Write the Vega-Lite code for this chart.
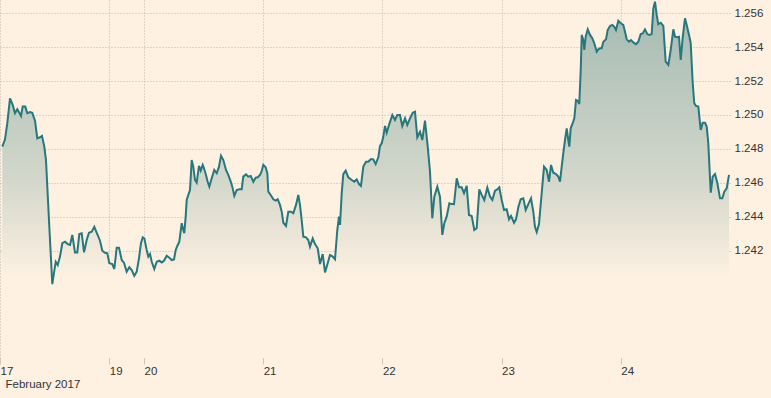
{
  "$schema": "https://vega.github.io/schema/vega-lite/v6.json",
  "autosize": "none",
  "width": 730,
  "height": 358,
  "padding": {"left": 0, "top": 0, "right": 41, "bottom": 40},
  "background": "#fef1e2",
  "config": {
    "view": {"stroke": null},
    "font": "Liberation Sans"
  },
  "data": {
    "values": [
      {"t":0.46,"v":1.24813},{"t":1.01,"v":1.24856},{"t":1.47,"v":1.24951},{"t":2.01,"v":1.25098},{"t":2.56,"v":1.25059},
      {"t":3.02,"v":1.25010},{"t":3.48,"v":1.25033},{"t":3.89,"v":1.25013},{"t":4.23,"v":1.24994},{"t":4.57,"v":1.25049},
      {"t":5.09,"v":1.25049},{"t":5.50,"v":1.25010},{"t":6.04,"v":1.25017},{"t":6.50,"v":1.25012},{"t":7.05,"v":1.24966},
      {"t":7.51,"v":1.24862},{"t":8.05,"v":1.24868},{"t":8.46,"v":1.24876},{"t":8.92,"v":1.24813},{"t":9.26,"v":1.24734},
      {"t":9.93,"v":1.24340},{"t":10.53,"v":1.24002},{"t":11.22,"v":1.24134},{"t":11.62,"v":1.24115},{"t":12.08,"v":1.24164},
      {"t":12.55,"v":1.24243},{"t":13.09,"v":1.24252},{"t":13.63,"v":1.24238},{"t":14.10,"v":1.24233},{"t":14.56,"v":1.24292},
      {"t":15.10,"v":1.24189},{"t":15.57,"v":1.24189},{"t":15.97,"v":1.24297},{"t":16.45,"v":1.24302},{"t":16.92,"v":1.24189},
      {"t":17.46,"v":1.24262},{"t":17.92,"v":1.24305},{"t":18.47,"v":1.24311},{"t":18.99,"v":1.24340},{"t":19.59,"v":1.24297},
      {"t":20.14,"v":1.24258},{"t":20.60,"v":1.24199},{"t":21.14,"v":1.24187},{"t":21.61,"v":1.24184},{"t":22.01,"v":1.24125},
      {"t":22.61,"v":1.24120},{"t":23.02,"v":1.24091},{"t":23.50,"v":1.24217},{"t":23.96,"v":1.24217},{"t":24.51,"v":1.24144},
      {"t":24.97,"v":1.24128},{"t":25.51,"v":1.24075},{"t":26.04,"v":1.24101},{"t":26.52,"v":1.24085},{"t":27.04,"v":1.24051},
      {"t":27.53,"v":1.24075},{"t":27.99,"v":1.24154},{"t":28.39,"v":1.24243},{"t":28.74,"v":1.24278},{"t":29.06,"v":1.24272},
      {"t":29.54,"v":1.24203},{"t":29.86,"v":1.24164},{"t":30.21,"v":1.24179},{"t":30.55,"v":1.24134},{"t":31.07,"v":1.24091},
      {"t":31.56,"v":1.24134},{"t":32.08,"v":1.24140},{"t":32.56,"v":1.24130},{"t":33.02,"v":1.24140},{"t":33.57,"v":1.24169},
      {"t":34.09,"v":1.24158},{"t":34.58,"v":1.24144},{"t":35.04,"v":1.24148},{"t":35.38,"v":1.24203},{"t":35.70,"v":1.24227},
      {"t":36.11,"v":1.24252},{"t":36.59,"v":1.24361},{"t":36.91,"v":1.24321},{"t":37.11,"v":1.24302},{"t":37.39,"v":1.24400},
      {"t":37.60,"v":1.24498},{"t":37.92,"v":1.24528},{"t":38.26,"v":1.24557},{"t":38.60,"v":1.24734},{"t":38.92,"v":1.24695},
      {"t":39.27,"v":1.24616},{"t":39.61,"v":1.24600},{"t":40.07,"v":1.24699},{"t":40.42,"v":1.24671},{"t":40.82,"v":1.24705},
      {"t":41.08,"v":1.24685},{"t":41.48,"v":1.24646},{"t":41.82,"v":1.24606},{"t":42.15,"v":1.24577},{"t":42.63,"v":1.24626},
      {"t":43.15,"v":1.24675},{"t":43.64,"v":1.24656},{"t":44.10,"v":1.24695},{"t":44.50,"v":1.24759},{"t":44.97,"v":1.24734},
      {"t":45.51,"v":1.24675},{"t":45.97,"v":1.24646},{"t":46.52,"v":1.24602},{"t":46.78,"v":1.24577},{"t":47.18,"v":1.24522},
      {"t":47.66,"v":1.24557},{"t":48.19,"v":1.24561},{"t":48.67,"v":1.24561},{"t":48.99,"v":1.24636},{"t":49.54,"v":1.24650},
      {"t":50.00,"v":1.24636},{"t":50.48,"v":1.24640},{"t":51.01,"v":1.24606},{"t":51.49,"v":1.24630},{"t":51.90,"v":1.24632},
      {"t":52.36,"v":1.24646},{"t":52.70,"v":1.24669},{"t":53.02,"v":1.24705},{"t":53.50,"v":1.24691},{"t":53.83,"v":1.24656},
      {"t":54.03,"v":1.24547},{"t":54.51,"v":1.24528},{"t":55.04,"v":1.24502},{"t":55.52,"v":1.24494},{"t":55.92,"v":1.24502},
      {"t":56.38,"v":1.24469},{"t":56.73,"v":1.24429},{"t":57.05,"v":1.24364},{"t":57.59,"v":1.24345},{"t":58.06,"v":1.24429},
      {"t":58.60,"v":1.24429},{"t":59.06,"v":1.24420},{"t":59.61,"v":1.24469},{"t":60.07,"v":1.24528},{"t":60.41,"v":1.24469},
      {"t":60.75,"v":1.24380},{"t":61.08,"v":1.24282},{"t":61.62,"v":1.24278},{"t":62.08,"v":1.24262},{"t":62.42,"v":1.24223},
      {"t":62.97,"v":1.24272},{"t":63.43,"v":1.24238},{"t":63.98,"v":1.24213},{"t":64.44,"v":1.24120},{"t":64.98,"v":1.24179},
      {"t":65.45,"v":1.24071},{"t":65.99,"v":1.24125},{"t":66.45,"v":1.24174},{"t":67.00,"v":1.24164},{"t":67.46,"v":1.24148},
      {"t":67.92,"v":1.24321},{"t":68.26,"v":1.24400},{"t":68.47,"v":1.24351},{"t":68.81,"v":1.24538},{"t":69.13,"v":1.24651},
      {"t":69.61,"v":1.24671},{"t":70.14,"v":1.24632},{"t":70.82,"v":1.24616},{"t":71.35,"v":1.24606},{"t":71.83,"v":1.24620},
      {"t":72.29,"v":1.24592},{"t":72.69,"v":1.24581},{"t":73.16,"v":1.24695},{"t":73.70,"v":1.24724},{"t":74.16,"v":1.24724},
      {"t":74.71,"v":1.24740},{"t":75.17,"v":1.24738},{"t":75.65,"v":1.24710},{"t":76.18,"v":1.24750},{"t":76.52,"v":1.24817},
      {"t":76.86,"v":1.24833},{"t":77.18,"v":1.24871},{"t":77.53,"v":1.24935},{"t":77.87,"v":1.24895},{"t":78.39,"v":1.24946},
      {"t":79.00,"v":1.25000},{"t":79.54,"v":1.24970},{"t":80.00,"v":1.25000},{"t":80.55,"v":1.25000},{"t":81.01,"v":1.24935},
      {"t":81.56,"v":1.24980},{"t":82.02,"v":1.24941},{"t":82.56,"v":1.24980},{"t":83.11,"v":1.25013},{"t":83.57,"v":1.25019},
      {"t":84.03,"v":1.24868},{"t":84.58,"v":1.24901},{"t":85.04,"v":1.24852},{"t":85.58,"v":1.24966},{"t":86.13,"v":1.24813},
      {"t":86.59,"v":1.24665},{"t":87.05,"v":1.24390},{"t":87.46,"v":1.24518},{"t":88.06,"v":1.24577},{"t":88.60,"v":1.24518},
      {"t":89.07,"v":1.24292},{"t":89.47,"v":1.24361},{"t":89.95,"v":1.24400},{"t":90.48,"v":1.24479},{"t":90.96,"v":1.24474},
      {"t":91.42,"v":1.24473},{"t":91.97,"v":1.24626},{"t":92.43,"v":1.24573},{"t":92.97,"v":1.24573},{"t":93.44,"v":1.24538},
      {"t":93.98,"v":1.24581},{"t":94.44,"v":1.24410},{"t":94.99,"v":1.24404},{"t":95.51,"v":1.24321},{"t":95.99,"v":1.24331},
      {"t":96.52,"v":1.24561},{"t":97.00,"v":1.24528},{"t":97.52,"v":1.24498},{"t":98.13,"v":1.24571},{"t":98.67,"v":1.24518},
      {"t":99.14,"v":1.24498},{"t":99.68,"v":1.24553},{"t":100.14,"v":1.24561},{"t":100.54,"v":1.24573},{"t":101.03,"v":1.24498},
      {"t":101.49,"v":1.24439},{"t":102.03,"v":1.24443},{"t":102.50,"v":1.24384},{"t":102.90,"v":1.24404},{"t":103.51,"v":1.24364},
      {"t":103.91,"v":1.24384},{"t":104.37,"v":1.24455},{"t":104.85,"v":1.24502},{"t":105.38,"v":1.24508},{"t":105.86,"v":1.24439},
      {"t":106.39,"v":1.24474},{"t":106.93,"v":1.24508},{"t":107.39,"v":1.24429},{"t":107.73,"v":1.24340},{"t":108.08,"v":1.24309},
      {"t":108.54,"v":1.24356},{"t":109.08,"v":1.24538},{"t":109.55,"v":1.24695},{"t":110.09,"v":1.24675},{"t":110.56,"v":1.24606},
      {"t":110.96,"v":1.24705},{"t":111.42,"v":1.24659},{"t":111.96,"v":1.24651},{"t":112.43,"v":1.24636},{"t":112.77,"v":1.24606},
      {"t":113.11,"v":1.24695},{"t":113.43,"v":1.24774},{"t":113.77,"v":1.24852},{"t":114.12,"v":1.24921},{"t":114.44,"v":1.24852},
      {"t":114.64,"v":1.24813},{"t":114.92,"v":1.24921},{"t":115.32,"v":1.24951},{"t":115.65,"v":1.24980},{"t":115.99,"v":1.25088},
      {"t":116.33,"v":1.25084},{"t":116.65,"v":1.25064},{"t":116.94,"v":1.25265},{"t":117.14,"v":1.25472},{"t":117.46,"v":1.25442},
      {"t":117.66,"v":1.25383},{"t":117.94,"v":1.25462},{"t":118.35,"v":1.25505},{"t":118.81,"v":1.25472},{"t":119.27,"v":1.25452},
      {"t":119.67,"v":1.25423},{"t":120.16,"v":1.25373},{"t":120.48,"v":1.25387},{"t":120.82,"v":1.25393},{"t":121.16,"v":1.25393},
      {"t":121.49,"v":1.25432},{"t":122.03,"v":1.25446},{"t":122.37,"v":1.25501},{"t":122.84,"v":1.25525},{"t":123.30,"v":1.25531},
      {"t":123.70,"v":1.25520},{"t":124.04,"v":1.25501},{"t":124.51,"v":1.25556},{"t":124.99,"v":1.25541},{"t":125.51,"v":1.25531},
      {"t":125.86,"v":1.25491},{"t":126.20,"v":1.25446},{"t":126.66,"v":1.25432},{"t":127.07,"v":1.25442},{"t":127.53,"v":1.25428},
      {"t":128.07,"v":1.25417},{"t":128.54,"v":1.25432},{"t":129.02,"v":1.25477},{"t":129.42,"v":1.25481},{"t":129.88,"v":1.25505},
      {"t":130.35,"v":1.25477},{"t":130.75,"v":1.25472},{"t":131.23,"v":1.25477},{"t":131.56,"v":1.25629},{"t":131.90,"v":1.25668},
      {"t":132.24,"v":1.25590},{"t":132.56,"v":1.25536},{"t":133.05,"v":1.25544},{"t":133.57,"v":1.25525},{"t":134.05,"v":1.25314},
      {"t":134.58,"v":1.25295},{"t":135.06,"v":1.25383},{"t":135.59,"v":1.25505},{"t":135.93,"v":1.25461},{"t":136.39,"v":1.25458},
      {"t":136.73,"v":1.25461},{"t":137.08,"v":1.25324},{"t":137.48,"v":1.25458},{"t":137.94,"v":1.25570},{"t":138.28,"v":1.25531},
      {"t":138.75,"v":1.25472},{"t":139.09,"v":1.25423},{"t":139.49,"v":1.25187},{"t":139.81,"v":1.25069},{"t":140.16,"v":1.25053},
      {"t":140.62,"v":1.25049},{"t":141.10,"v":1.24911},{"t":141.50,"v":1.24954},{"t":141.97,"v":1.24954},{"t":142.31,"v":1.24931},
      {"t":142.63,"v":1.24833},{"t":143.12,"v":1.24541},{"t":143.52,"v":1.24636},{"t":143.98,"v":1.24651},{"t":144.44,"v":1.24600},
      {"t":144.99,"v":1.24508},{"t":145.45,"v":1.24508},{"t":145.85,"v":1.24547},{"t":146.33,"v":1.24567},{"t":146.80,"v":1.24646}
    ]
  },
  "encoding": {
    "x": {
      "field": "t",
      "type": "quantitative",
      "scale": {"domain": [0, 147], "nice": false, "zero": false},
      "axis": {
        "orient": "bottom",
        "values": [0, 22, 29, 53, 77, 101, 125],
        "labelExpr": "datum.value == 0 ? '17' : datum.value == 22 ? '19' : datum.value == 29 ? '20' : datum.value == 53 ? '21' : datum.value == 77 ? '22' : datum.value == 101 ? '23' : '24'",
        "domain": false,
        "grid": true,
        "gridDash": [1, 2],
        "gridColor": "#bdb6ac",
        "gridWidth": 1,
        "ticks": true,
        "tickSize": 6,
        "tickColor": "#cdc6bb",
        "tickWidth": 1,
        "labelAlign": "left",
        "labelBaseline": "top",
        "labelDx": 4.5,
        "labelPadding": 1,
        "labelFontSize": 11.5,
        "labelColor": "#333333",
        "labelFont": "Liberation Sans",
        "labelOverlap": false,
        "labelBound": false,
        "labelFlush": false,
        "title": "February 2017",
        "titleFont": "Liberation Sans",
        "titleFontSize": 11.5,
        "titleFontWeight": "normal",
        "titleColor": "#333333",
        "titleAnchor": "start",
        "titleAlign": "left",
        "titleBaseline": "top",
        "titleX": 5,
        "titleY": 20
      }
    },
    "y": {
      "field": "v",
      "type": "quantitative",
      "scale": {"domain": [1.23566, 1.25678], "nice": false, "zero": false},
      "axis": {
        "orient": "right",
        "values": [1.242, 1.244, 1.246, 1.248, 1.25, 1.252, 1.254, 1.256],
        "format": ".3f",
        "domain": false,
        "ticks": false,
        "grid": true,
        "gridDash": [1, 2],
        "gridColor": "#bdb6ac",
        "gridWidth": 1,
        "labelPadding": 4,
        "labelFontSize": 11.5,
        "labelColor": "#333333",
        "labelFont": "Liberation Sans",
        "labelOverlap": false,
        "labelBound": false,
        "title": null
      }
    }
  },
  "layer": [
    {
      "mark": {
        "type": "area",
        "color": {
          "gradient": "linear",
          "x1": 0, "y1": 0, "x2": 0, "y2": 1,
          "stops": [
            {"offset": 0, "color": "#a3bab2"},
            {"offset": 0.5, "color": "#d3d7cb"},
            {"offset": 0.78, "color": "#fef1e2"}
          ]
        }
      },
      "encoding": {
        "y2": {"datum": 1.23566}
      }
    },
    {
      "mark": {"type": "line", "color": "#27777c", "strokeWidth": 2}
    }
  ]
}
